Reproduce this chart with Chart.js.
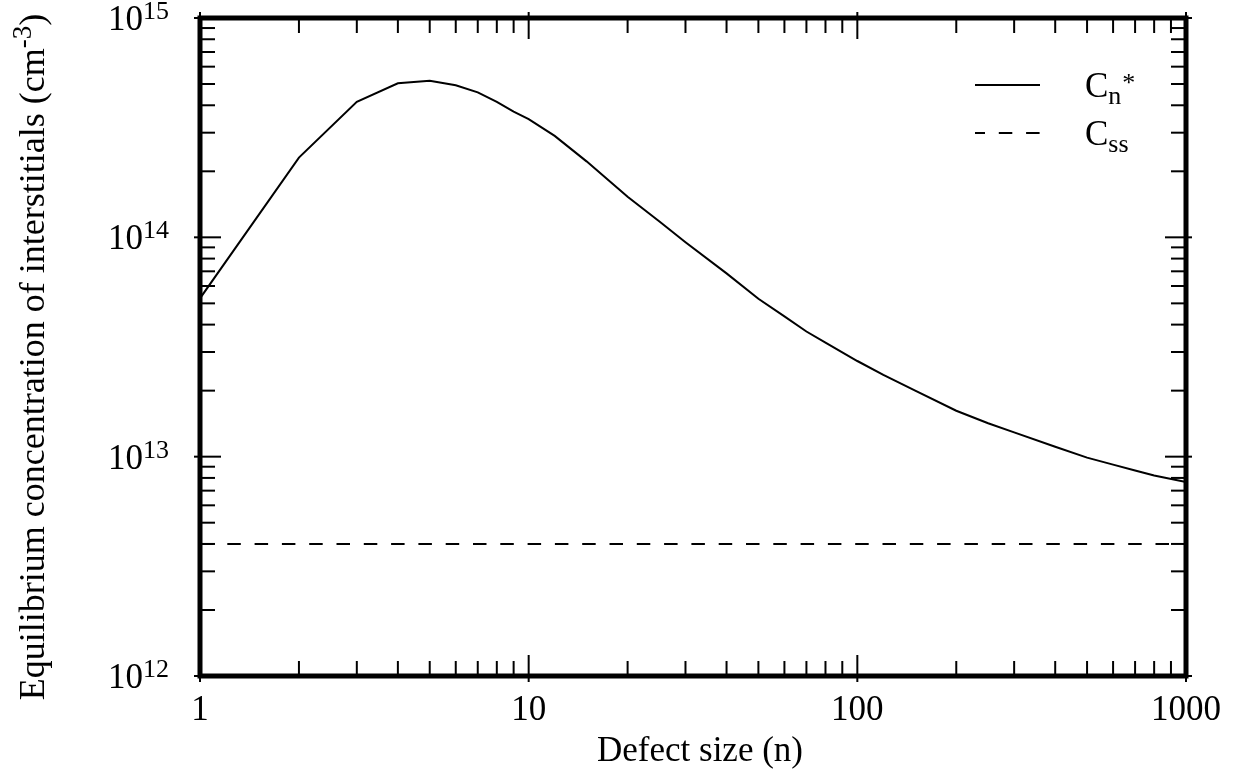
<!DOCTYPE html>
<html>
<head>
<meta charset="utf-8">
<script src="https://cdn.jsdelivr.net/npm/chart.js@4/dist/chart.umd.min.js"></script>
<style>
  html, body { margin: 0; padding: 0; background: #ffffff; }
  canvas { display: block; }
</style>
</head>
<body>
<canvas id="chart" width="1238" height="778"></canvas>
<script>
// Defect size n (number of interstitials in the cluster)
const defectSize = [1, 2, 3, 4, 5, 6, 7, 8, 9, 10, 12, 15, 20, 25, 30, 40, 50, 60, 70, 80,
                    100, 120, 150, 200, 250, 300, 400, 500, 600, 700, 800, 1000];
// Equilibrium interstitial concentration Cn* (cm^-3)
const cnStar = [5.27e13, 2.31e14, 4.15e14, 5.04e14, 5.18e14, 4.94e14, 4.58e14, 4.15e14, 3.74e14, 3.46e14,
                2.90e14, 2.22e14, 1.53e14, 1.18e14, 9.5e13, 6.85e13, 5.25e13, 4.36e13, 3.72e13, 3.31e13,
                2.73e13, 2.36e13, 2.0e13, 1.62e13, 1.42e13, 1.29e13, 1.11e13, 9.9e12, 9.2e12, 8.65e12, 8.2e12, 7.67e12];
// Steady-state supersaturation Css (cm^-3)
const cssSize = [1, 1000];
const cssValue = [4e12, 4e12];

// Axis ranges and labels
const xRange = [1, 1000];
const yRange = [1e12, 1e15];
const xTickLabels = ['1', '10', '100', '1000'];
const yTickExponents = ['12', '13', '14', '15'];

const FONT = '"Liberation Serif", "Times New Roman", serif';
const DASH = [13.5, 13.8];

function drawRich(ctx, parts, x, y) {
  let cx = x;
  for (const p of parts) {
    ctx.font = p.size + 'px ' + FONT;
    ctx.fillText(p.text, cx, y + (p.dy || 0));
    cx += ctx.measureText(p.text).width;
  }
}
function richWidth(ctx, parts) {
  let w = 0;
  for (const p of parts) {
    ctx.font = p.size + 'px ' + FONT;
    w += ctx.measureText(p.text).width;
  }
  return w;
}

const framePlugin = {
  id: 'frameAndTicks',
  afterDatasetsDraw(chart) {
    const ctx = chart.ctx;
    const a = chart.chartArea;
    const xs = chart.scales.x, ys = chart.scales.y;
    ctx.save();
    ctx.strokeStyle = '#000';
    ctx.fillStyle = '#000';

    // tick marks pointing into the plot on all four sides
    ctx.lineWidth = 2;
    const tick = (x1, y1, x2, y2) => { ctx.beginPath(); ctx.moveTo(x1, y1); ctx.lineTo(x2, y2); ctx.stroke(); };
    const xe0 = Math.log10(xRange[0]), xe1 = Math.log10(xRange[1]);
    for (let e = xe0; e <= xe1; e++) {
      for (let s = 1; s <= 9; s++) {
        const v = s * Math.pow(10, e);
        if (v > xRange[1]) break;
        const px = xs.getPixelForValue(v);
        const major = s === 1;
        const inn = major ? 21 : 15, out = major ? 6 : 0;
        tick(px, a.bottom + out, px, a.bottom - inn);
        tick(px, a.top - out, px, a.top + inn);
      }
    }
    const ye0 = Math.log10(yRange[0]), ye1 = Math.log10(yRange[1]);
    for (let e = ye0; e <= ye1; e++) {
      for (let s = 1; s <= 9; s++) {
        const v = s * Math.pow(10, e);
        if (v > yRange[1] * 1.0001) break;
        const py = ys.getPixelForValue(v);
        const major = s === 1;
        const inn = major ? 21 : 15, out = major ? 6 : 0;
        tick(a.left - out, py, a.left + inn, py);
        tick(a.right + out, py, a.right - inn, py);
      }
    }

    // heavy frame
    ctx.lineWidth = 5;
    ctx.strokeRect(a.left, a.top, a.right - a.left, a.bottom - a.top);

    // x tick labels
    ctx.textAlign = 'center';
    ctx.textBaseline = 'alphabetic';
    ctx.font = '35px ' + FONT;
    xTickLabels.forEach(t => {
      ctx.fillText(t, xs.getPixelForValue(Number(t)), 720);
    });

    // y tick labels: 10 with a raised exponent
    ctx.textAlign = 'left';
    yTickExponents.forEach(ex => {
      const py = ys.getPixelForValue(Math.pow(10, Number(ex)));
      drawRich(ctx, [{ text: '10', size: 35, dy: 12 }, { text: ex, size: 26, dy: 1 }], 108, py);
    });

    // x axis title
    ctx.textAlign = 'center';
    ctx.font = '35px ' + FONT;
    ctx.fillText('Defect size (n)', 700, 761);

    // y axis title, rotated
    ctx.save();
    ctx.translate(44, 357);
    ctx.rotate(-Math.PI / 2);
    ctx.textAlign = 'left';
    const titleParts = [
      { text: 'Equilibrium concentration of interstitials (cm', size: 36, dy: 0 },
      { text: '-3', size: 27, dy: -13 },
      { text: ')', size: 36, dy: 0 }
    ];
    drawRich(ctx, titleParts, -richWidth(ctx, titleParts) / 2, 0);
    ctx.restore();

    // legend
    ctx.lineWidth = 2;
    ctx.setLineDash([]);
    tick(975, 85, 1040, 85);
    ctx.setLineDash(DASH);
    ctx.lineDashOffset = 3.5;
    tick(975, 133, 1040, 133);
    ctx.setLineDash([]);
    ctx.lineDashOffset = 0;
    ctx.textAlign = 'left';
    drawRich(ctx, [{ text: 'C', size: 35, dy: 0 }, { text: 'n', size: 26, dy: 7 }], 1085, 97);
    ctx.font = '26px ' + FONT;
    ctx.fillText('*', 1085 + richWidth(ctx, [{ text: 'C', size: 35 }, { text: 'n', size: 26 }]) + 1, 91);
    drawRich(ctx, [{ text: 'C', size: 35, dy: 0 }, { text: 'ss', size: 26, dy: 7 }], 1085, 145);

    ctx.restore();
  }
};

new Chart(document.getElementById('chart'), {
  type: 'scatter',
  data: {
    datasets: [
      {
        label: 'Cn*',
        data: defectSize.map((n, i) => ({ x: n, y: cnStar[i] })),
        showLine: true,
        borderColor: '#000',
        borderWidth: 2,
        pointRadius: 0,
        tension: 0,
        fill: false
      },
      {
        label: 'Css',
        data: cssSize.map((n, i) => ({ x: n, y: cssValue[i] })),
        showLine: true,
        borderColor: '#000',
        borderWidth: 2,
        borderDash: DASH,
        pointRadius: 0,
        tension: 0,
        fill: false
      }
    ]
  },
  options: {
    responsive: false,
    animation: false,
    devicePixelRatio: 1,
    layout: { padding: { left: 200, right: 52, top: 18, bottom: 102 } },
    plugins: { legend: { display: false }, tooltip: { enabled: false } },
    scales: {
      x: { type: 'logarithmic', min: xRange[0], max: xRange[1], display: false },
      y: { type: 'logarithmic', min: yRange[0], max: yRange[1], display: false }
    }
  },
  plugins: [framePlugin]
});
</script>
</body>
</html>
